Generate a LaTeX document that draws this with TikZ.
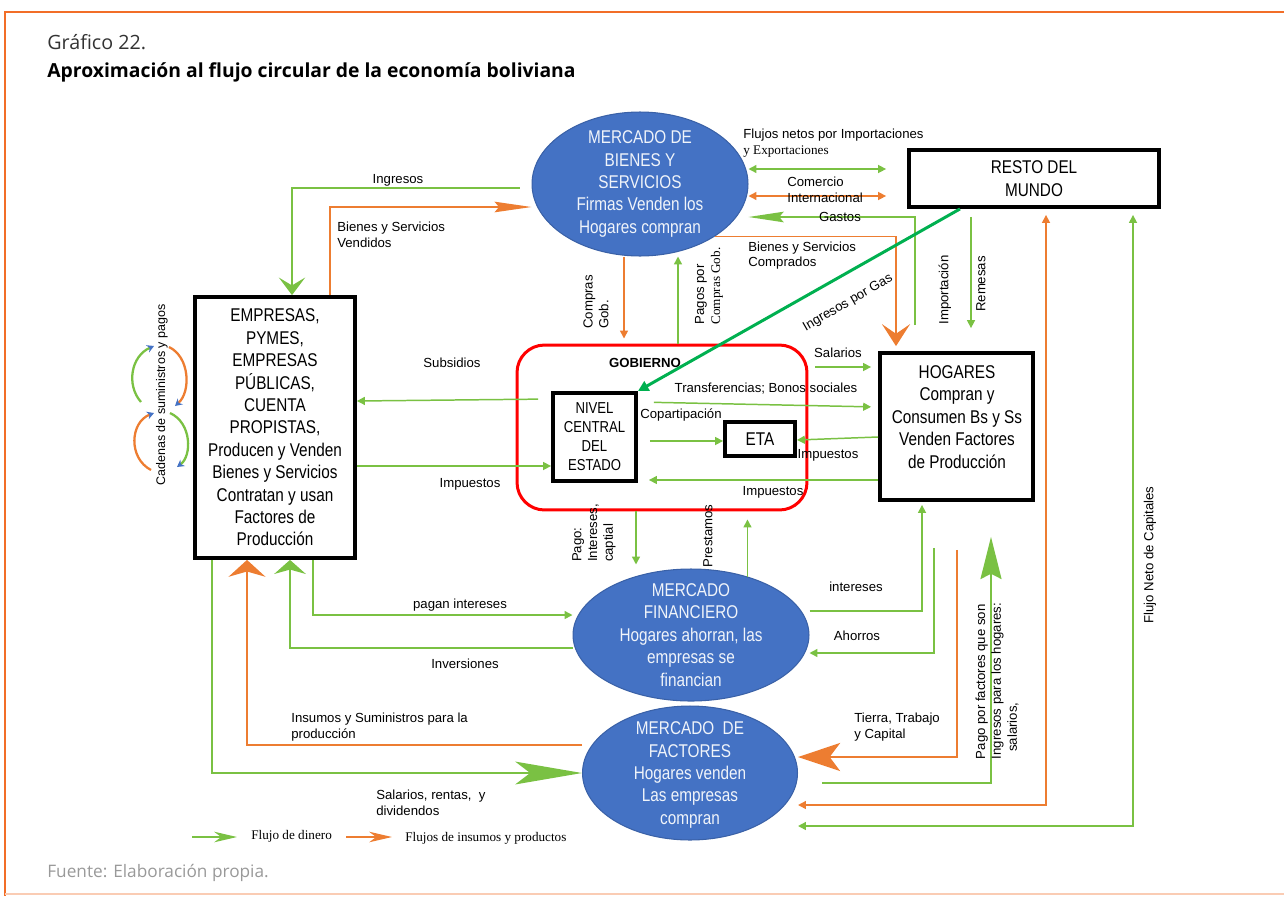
\documentclass[tikz,border=0pt]{standalone}
\usepackage{fontspec}
\setmainfont{Liberation Sans}
\newfontfamily\narrowfont{Liberation Sans}[FakeStretch=0.83]
\newfontfamily\timesfont{Liberation Serif}
\newfontfamily\headfont{Open Sans}
\usetikzlibrary{arrows.meta,shapes.geometric}

\definecolor{cgreen}{RGB}{122,193,67}
\definecolor{corange}{RGB}{237,125,49}
\definecolor{cdkgreen}{RGB}{0,176,80}
\definecolor{cblue}{RGB}{68,114,196}
\definecolor{cred}{RGB}{255,0,0}
\definecolor{cframe}{RGB}{242,110,40}

\tikzset{
  mkt/.style={ellipse,fill=cblue,draw=cblue!85!black,line width=0.6pt,inner sep=0pt},
  mtxt/.style={align=center,text=white!92!cblue,font=\narrowfont\fontsize{10.5}{12.75}\selectfont},
  agent/.style={draw,line width=2.2pt,align=center,inner sep=0pt,font=\narrowfont\fontsize{10.5}{12.75}\selectfont},
  lbl/.style={inner sep=0pt,font=\fontsize{7.5}{9}\selectfont},
  lbll/.style={lbl,align=left,anchor=west},
  money/.style={draw=cgreen,line width=0.85pt},
  goods/.style={draw=corange,line width=0.85pt},
  tip/.style={-{Triangle[length=4.5pt,width=4.5pt]}},
  tips/.style={{Triangle[length=4.5pt,width=4.5pt]}-{Triangle[length=4.5pt,width=4.5pt]}},
  head/.style={-{Stealth[#1]}},
  chain/.style={line width=1.3pt,-{Stealth[length=4pt,width=4.5pt,color=cblue]}}
}

\begin{document}
\begin{tikzpicture}[x=0.02cm,y=-0.02cm]
\useasboundingbox (0,0) rectangle (1284,896);
% marco y titulos
\draw[cframe,line width=1.7pt] (1284,12) -- (5,12) -- (5,896);
\draw[cframe!35,line width=0.8pt] (5,894) -- (1284,894);
\node[anchor=west,inner sep=0pt,text=black!80,font=\headfont\fontsize{11.2}{13}\selectfont] (graf) at (47,42) {Gráfico 22.};
\node[anchor=west,inner sep=0pt,font=\headfont\bfseries\fontsize{11}{13}\selectfont] (tit) at (47,72) {Aproximación al flujo circular de la economía boliviana};
\node[anchor=west,inner sep=0pt,text=black!40,font=\headfont\fontsize{9.8}{12}\selectfont] (fte) at (47,873) {Fuente: Elaboración propia.};

% mercados
\node[mkt,minimum width=4.32cm,minimum height=2.88cm] (mbs) at (640,184) {};
\node[mtxt] (mbs-t) at (mbs) {MERCADO DE\\BIENES Y\\SERVICIOS\\Firmas Venden los\\Hogares compran};
\node[mkt,minimum width=4.72cm,minimum height=2.64cm] (mfi) at (691,635) {};
\node[mtxt] (mfi-t) at (mfi) {MERCADO\\FINANCIERO\\Hogares ahorran, las\\empresas se\\financian};
\node[mkt,minimum width=4.3cm,minimum height=2.68cm] (mdf) at (690,773) {};
\node[mtxt] (mdf-t) at ([yshift=-0.04cm]mdf) {MERCADO\ \ DE\\FACTORES\\Hogares venden\\Las empresas\\compran};

% agentes
\node[agent,minimum width=5cm,minimum height=1.14cm] (rdm) at (1034,178.5) {RESTO DEL\\MUNDO};
\node[agent,minimum width=3.2cm,minimum height=5.22cm] (emp) at (275,427.5)
  {EMPRESAS,\\PYMES,\\EMPRESAS\\PÚBLICAS,\\CUENTA\\PROPISTAS,\\Producen y Venden\\Bienes y Servicios\\Contratan y usan\\Factores de\\Producción};
\node[draw=cred,line width=1.7pt,rounded corners=0.55cm,minimum width=5.8cm,minimum height=3.3cm] (gob) at (662,427.5) {};
\node[lbl,font=\bfseries\fontsize{7.5}{9}\selectfont] (gob-t) at (645,363) {GOBIERNO};
\node[agent,minimum width=1.66cm,minimum height=1.76cm,font=\narrowfont\fontsize{9}{10.8}\selectfont] (nce) at (594.5,437) {NIVEL\\CENTRAL\\DEL\\ESTADO};
\node[agent,minimum width=1.4cm,minimum height=0.68cm] (eta) at (760,439) {ETA};
\node[agent,minimum width=3.06cm,minimum height=2.94cm] (hog) at (956.5,426.5) {};
\node[align=center,font=\narrowfont\fontsize{10.5}{12.75}\selectfont] (hog-t) at (957,417) {HOGARES\\Compran y\\Consumen Bs y Ss\\Venden Factores\\de Producción};

% cadenas de suministros
\draw[chain,cgreen] (141,402) .. controls (126,385) and (131,356) .. (154,346);
\draw[chain,corange] (169,347) .. controls (190,357) and (191,392) .. (175,406);
\draw[chain,corange] (151,470) .. controls (128,458) and (130,422) .. (154,413);
\draw[chain,cgreen] (170,413) .. controls (192,423) and (192,456) .. (177,467);
\node[lbl,rotate=90,font=\fontsize{7.1}{9}\selectfont] (l-cad) at (162,395) {Cadenas de suministros y pagos};

% bienes y servicios
\draw[money,head={length=10pt,width=15pt,inset=4.5pt},shorten <=0.24cm] (mbs.west |- 0,188) -| (emp.north -| 292,0);
\node[lbl] (l-ing) at (398,180) {Ingresos};
\draw[goods,head={length=21pt,width=6pt,inset=2.5pt}] (emp.north -| 330,0) |- (mbs.west |- 0,207);
\node[lbll] (l-bsv) at (337,235) {Bienes y Servicios\\Vendidos};
\draw[money,tips,shorten >=0.42cm] (mbs.east |- 0,169) -- (rdm.west |- 0,169);
\node[lbl,anchor=west] (l-fn1) at (743,135) {Flujos netos por Importaciones};
\node[lbl,anchor=west,font=\timesfont\fontsize{7.5}{9}\selectfont] (l-fn2) at (743,152) {y Exportaciones};
\draw[goods,tips,shorten >=0.42cm] (mbs.east |- 0,196) -- (rdm.west |- 0,196);
\node[lbll] (l-com) at (787,190) {Comercio\\Internacional};
\draw[money,head={length=20pt,width=6pt,inset=2.5pt},shorten <=0.52cm] (hog.north -| 915,0) |- (mbs.east |- 0,217);
\node[lbl] (l-gas) at (840,217) {Gastos};
\draw[goods,head={length=12.5pt,width=16pt,inset=5.5pt},shorten >=0.1cm] (mbs.-35) -| (hog.north -| 896,0);
\node[lbll] (l-bsc) at (748,255.5) {Bienes y Servicios\\Comprados};

% resto del mundo
\draw[cdkgreen,line width=1.7pt,-{Triangle[length=6pt,width=6pt]}] (rdm.south -| 960,0) -- (nce.north east);
\node[lbl,rotate=30] (l-gas2) at (848,303) {Ingresos por Gas};
\node[lbl,rotate=90] (l-imp) at (945,290) {Importación};
\draw[money,tip,shorten <=0.16cm,shorten >=0.46cm] (rdm.south -| 971,0) -- (hog.north -| 971,0);
\node[lbl,rotate=90] (l-rem) at (981,284) {Remesas};
\draw[goods,tips,shorten >=0.12cm] (mdf.east |- 0,805) -| (rdm.south -| 1046,0);
\draw[money,tips,shorten >=0.12cm] (mdf.east |- 0,826) -| (rdm.south -| 1133,0);
\node[lbl,rotate=90] (l-fnc) at (1150,555) {Flujo Neto de Capitales};

% gobierno
\draw[goods,tip,shorten >=0.1cm] (mbs.south -| 624,0) -- (gob.north -| 624,0);
\node[lbl,rotate=90,align=left] (l-cg) at (596,302) {Compras\\Gob.};
\draw[money,tip] (gob.north -| 678,0) -- (mbs.south -| 678,0);
\node[lbl,rotate=90,align=left] (l-pcg) at (709,286) {Pagos por\\{\timesfont Compras Gob.}};
\draw[money,tip,shorten <=0.14cm,shorten >=0.14cm] (gob.east |- 0,367) -- (hog.west |- 0,367);
\node[lbl] (l-sal) at (838,353) {Salarios};
\draw[money,tip,shorten <=0.32cm,shorten >=0.14cm] (nce.east |- 0,402) -- (hog.west |- 0,407);
\node[lbl] (l-tra) at (766,389) {Transferencias; Bonos sociales};
\draw[money,tip,shorten <=0.24cm] (nce.east |- 0,441) -- (eta.west |- 0,441);
\node[lbl] (l-cop) at (681,415) {Copartipación};
\draw[money,tip] (hog.west |- 0,437) -- (eta.east |- 0,440);
\node[lbl] (l-imp1) at (828,455) {Impuestos};
\draw[money,tip,shorten >=0.22cm] (hog.west |- 0,480) -- (nce.east |- 0,480);
\node[lbl] (l-imp2) at (773,492) {Impuestos};
\draw[money,tip,shorten <=0.26cm] (nce.west |- 0,399) -- (emp.east |- 0,401);
\node[lbl] (l-sub) at (452,363) {Subsidios};
\draw[money,tip] (emp.east |- 0,466) -- (nce.west |- 0,466);
\node[lbl] (l-imp3) at (470,484) {Impuestos};
\draw[money,tip,shorten >=0.08cm] (gob.south -| 636,0) -- (mfi.north -| 636,0);
\node[lbl,rotate=90,align=left] (l-pag) at (594,533) {Pago:\\Intereses,\\captial};
\draw[money,tip,shorten >=0.16cm] (mfi.46) -- (mfi.46 |- gob.south);
\node[lbl,rotate=90] (l-pre) at (708,536) {Prestamos};

% mercado financiero
\draw[money,tip,shorten >=0.06cm] (mfi.east |- 0,611) -| (hog.south -| 922,0);
\node[lbl] (l-int) at (856,587) {intereses};
\draw[money,tip,shorten <=0.92cm] (hog.south -| 934,0) |- (mfi.east |- 0,653);
\node[lbl] (l-aho) at (857,636) {Ahorros};
\draw[money,tip] (emp.south -| 313,0) |- (mfi.west |- 0,615);
\node[lbl] (l-pi) at (460,605) {pagan intereses};
\draw[money,head={length=8pt,width=18pt,inset=2.5pt}] (mfi.west |- 0,648) -| (emp.south -| 290,0);
\node[lbl] (l-inv) at (465,664) {Inversiones};

% mercado de factores
\draw[goods,head={length=9.6pt,width=21pt,inset=3pt}] (mdf.west |- 0,745) -| (emp.south -| 247,0);
\node[lbll] (l-ins) at (291,727) {Insumos y Suministros para la\\producción};
\draw[money,head={length=38pt,width=13pt,inset=8.5pt}] (emp.south -| 212,0) |- (mdf.west);
\node[lbll] (l-srd) at (376,803) {Salarios, rentas,\ \ y\\dividendos};
\draw[goods,head={length=24pt,width=16pt,inset=6pt},shorten <=0.96cm] (hog.south -| 957,0) |- (mdf.east |- 0,757);
\node[lbll] (l-ttc) at (854,727) {Tierra, Trabajo\\y Capital};
\draw[money,head={length=24pt,width=12pt,inset=3pt},shorten <=0.48cm,shorten >=0.7cm] (mdf.east |- 0,783) -| (hog.south -| 991,0);
\node[lbl,rotate=90,align=left] (l-ppf) at (997,681) {Pago por factores que son\\Ingresos para los hogares:\\\ \ salarios,};

% leyenda
\coordinate (lg1) at (192,837);
\coordinate (lg2) at (346,837);
\node[lbll,font=\timesfont\fontsize{7.5}{9}\selectfont] (ley1) at (251,836) {Flujo de dinero};
\node[lbll,font=\timesfont\fontsize{7.5}{9}\selectfont] (ley2) at (405,838) {Flujos de insumos y productos};
\draw[money,head={length=13pt,width=6pt,inset=4pt},shorten >=0.28cm] (lg1) -- (ley1.west |- lg1);
\draw[goods,head={length=13pt,width=6pt,inset=4pt},shorten >=0.26cm] (lg2) -- (ley2.west |- lg2);
\end{tikzpicture}
\end{document}
